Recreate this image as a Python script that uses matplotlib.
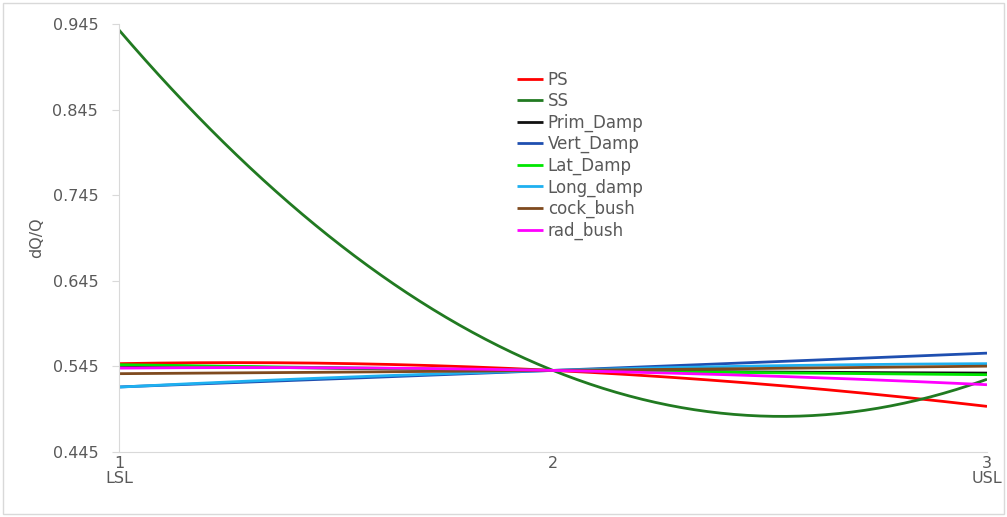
import numpy as np
import matplotlib
matplotlib.use("Agg")
import matplotlib.pyplot as plt
from matplotlib.patches import Rectangle

x_pos = [1, 2, 3]
x_labels = ["1\nLSL", "2", "3\nUSL"]
y_ticks = [0.445, 0.545, 0.645, 0.745, 0.845, 0.945]

series_names = ["PS", "SS", "Prim_Damp", "Vert_Damp", "Lat_Damp", "Long_damp", "cock_bush", "rad_bush"]
PS = [0.5482, 0.5403, 0.4983]
SS = [0.9380, 0.5403, 0.5300]
Prim_Damp = [0.5462, 0.5403, 0.5372]
Vert_Damp = [0.5210, 0.5403, 0.5605]
Lat_Damp = [0.5470, 0.5403, 0.5353]
Long_damp = [0.5208, 0.5403, 0.5482]
cock_bush = [0.5365, 0.5403, 0.5453]
rad_bush = [0.5430, 0.5403, 0.5236]
series_values = [PS, SS, Prim_Damp, Vert_Damp, Lat_Damp, Long_damp, cock_bush, rad_bush]
colors = ["#FF0000", "#217A21", "#111111", "#1F4FB0", "#00E600", "#1EB0F0", "#7F4A1E", "#FF00FF"]

plt.rcParams['font.family'] = ['DejaVu Sans']
text_color = "#595959"

fig = plt.figure(figsize=(10.07, 5.17), dpi=100)
fig.patches.append(Rectangle((0.003, 0.005), 0.994, 0.99, transform=fig.transFigure,
                             fill=False, edgecolor="#D9D9D9", linewidth=1.0))
ax = fig.add_axes([119/1007, 1-452/517, (987-119)/1007, (452-24)/517])

xs = np.linspace(1, 3, 200)
for name, vals, c in zip(series_names, series_values, colors):
    coef = np.polyfit(x_pos, vals, 2)
    ax.plot(xs, np.polyval(coef, xs), color=c, lw=2.0, label=name, solid_capstyle='butt')

ax.set_xlim(1, 3)
ax.set_ylim(0.445, 0.945)
ax.set_xticks(x_pos)
ax.set_xticklabels(x_labels, linespacing=1.0)
ax.set_yticks(y_ticks)
ax.set_yticklabels([f"{v:.3f}" for v in y_ticks])
ax.tick_params(axis='both', colors="#D9D9D9", labelcolor=text_color, labelsize=11.5, length=5)
ax.tick_params(axis='y', pad=10)
ax.tick_params(axis='x', length=0, pad=3)
for s in ["top", "right"]:
    ax.spines[s].set_visible(False)
for s in ["left", "bottom"]:
    ax.spines[s].set_color("#D9D9D9")
ax.set_ylabel("dQ/Q", color=text_color, fontsize=11.5, labelpad=6)

leg = ax.legend(loc="upper left", bbox_to_anchor=(0.4585, 0.8907), frameon=False,
                fontsize=12, handlelength=1.55, handletextpad=0.3, labelspacing=0.2,
                borderaxespad=0, borderpad=0)
for t in leg.get_texts():
    t.set_color(text_color)

fig.savefig("out.png", dpi=100)
